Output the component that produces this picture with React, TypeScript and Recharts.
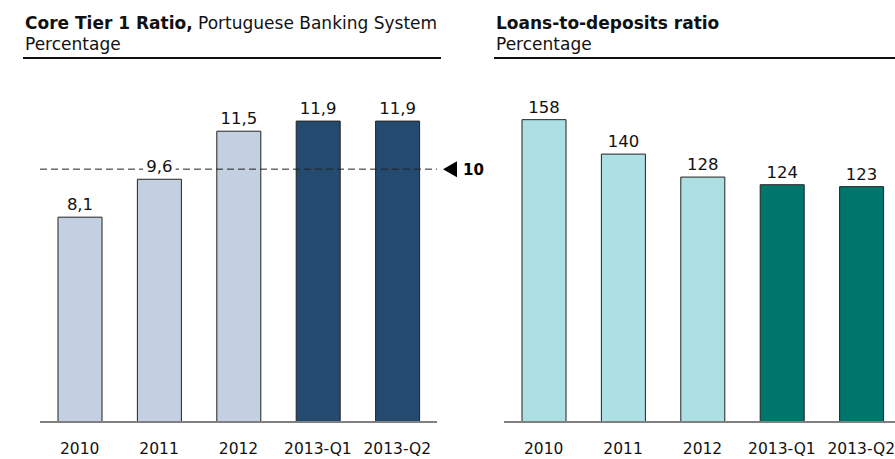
import { BarChart, Bar, XAxis, YAxis, Cell, LabelList, ReferenceLine } from 'recharts'

const periods = ['2010', '2011', '2012', '2013-Q1', '2013-Q2']
const coreTier1 = [8.1, 9.6, 11.5, 11.9, 11.9]
const loansToDeposits = [158, 140, 128, 124, 123]
const coreTier1Minimum = 10

const CORE_COLORS = ['#C2D0E2', '#C2D0E2', '#C2D0E2', '#254A6F', '#254A6F']
const LTD_COLORS = ['#ADE0E3', '#ADE0E3', '#ADE0E3', '#00756B', '#00756B']

const FONT = '"DejaVu Sans", Verdana, sans-serif'

const coreData = periods.map((p, i) => ({ period: p, value: coreTier1[i] }))
const ltdData = periods.map((p, i) => ({ period: p, value: loansToDeposits[i] }))

const comma = (v: number) => v.toFixed(1).replace('.', ',')

// value label with a white box behind it so the dashed line breaks around it
function makeLabel(fmt: (v: number) => string) {
  return (props: any) => {
    const { x, y, width, value } = props
    const s = fmt(Number(value))
    const cx = Number(x) + Number(width) / 2
    const w = s.length * 9.5 + 4
    return (
      <g>
        <rect x={cx - w / 2} y={Number(y) - 22} width={w} height={16} fill="#fff" />
        <text x={cx} y={Number(y) - 7} textAnchor="middle" fontFamily={FONT} fontSize={16.5} fill="#111">
          {s}
        </text>
      </g>
    )
  }
}

function MinimumMarker(props: any) {
  const { viewBox } = props
  const x = viewBox.x + viewBox.width
  const y = viewBox.y
  return (
    <g>
      <polygon points={`${x + 6},${y} ${x + 20},${y - 8} ${x + 20},${y + 8}`} fill="#000" />
      <text x={x + 26} y={y + 5.5} fontFamily={FONT} fontSize={15} fontWeight="bold" fill="#000">
        {coreTier1Minimum}
      </text>
    </g>
  )
}

const tick = { fontSize: 15.5, fill: '#111', fontFamily: FONT }

function Title({ left, width, bold, rest }: { left: number; width: number; bold: string; rest?: string }) {
  return (
    <div
      style={{
        position: 'absolute', left, top: 13, width, fontFamily: FONT, fontSize: 17, lineHeight: '21px',
        color: '#111', borderBottom: '2px solid #111', paddingBottom: 2, paddingLeft: 2, boxSizing: 'border-box',
        whiteSpace: 'nowrap',
      }}
    >
      <div><b>{bold}</b>{rest}</div>
      <div>Percentage</div>
    </div>
  )
}

export default function App() {
  return (
    <div style={{ position: 'absolute', left: 0, top: 0, width: 895, height: 459, overflow: 'hidden', background: '#fff' }}>
      <Title left={23} width={418} bold="Core Tier 1 Ratio," rest=" Portuguese Banking System" />
      <Title left={494} width={420} bold="Loans-to-deposits ratio" />

      <div style={{ position: 'absolute', left: 0, top: 0 }}>
        <BarChart width={495} height={459} data={coreData} margin={{ top: 68, right: 58, left: 40, bottom: 7 }}>
          <XAxis
            dataKey="period" height={30} tick={tick} tickLine={false} tickSize={0} tickMargin={21}
            axisLine={{ stroke: '#808080', strokeWidth: 2 }}
          />
          <YAxis hide domain={[0, 14]} />
          <Bar dataKey="value" barSize={44} stroke="#222" strokeWidth={1} isAnimationActive={false}>
            {coreData.map((_, i) => <Cell key={i} fill={CORE_COLORS[i]} />)}
            <LabelList dataKey="value" content={makeLabel(comma)} />
          </Bar>
          <ReferenceLine y={coreTier1Minimum} stroke="#222" strokeDasharray="7 4" strokeWidth={1} label={<MinimumMarker />} />
        </BarChart>
      </div>

      <div style={{ position: 'absolute', left: 480, top: 0 }}>
        <BarChart width={430} height={459} data={ltdData} margin={{ top: 68, right: 9, left: 24, bottom: 7 }}>
          <XAxis
            dataKey="period" height={30} tick={tick} tickLine={false} tickSize={0} tickMargin={21}
            axisLine={{ stroke: '#808080', strokeWidth: 2 }}
          />
          <YAxis hide domain={[0, 185]} />
          <Bar dataKey="value" barSize={44} stroke="#222" strokeWidth={1} isAnimationActive={false}>
            {ltdData.map((_, i) => <Cell key={i} fill={LTD_COLORS[i]} />)}
            <LabelList dataKey="value" content={makeLabel((v) => String(v))} />
          </Bar>
        </BarChart>
      </div>
    </div>
  )
}
